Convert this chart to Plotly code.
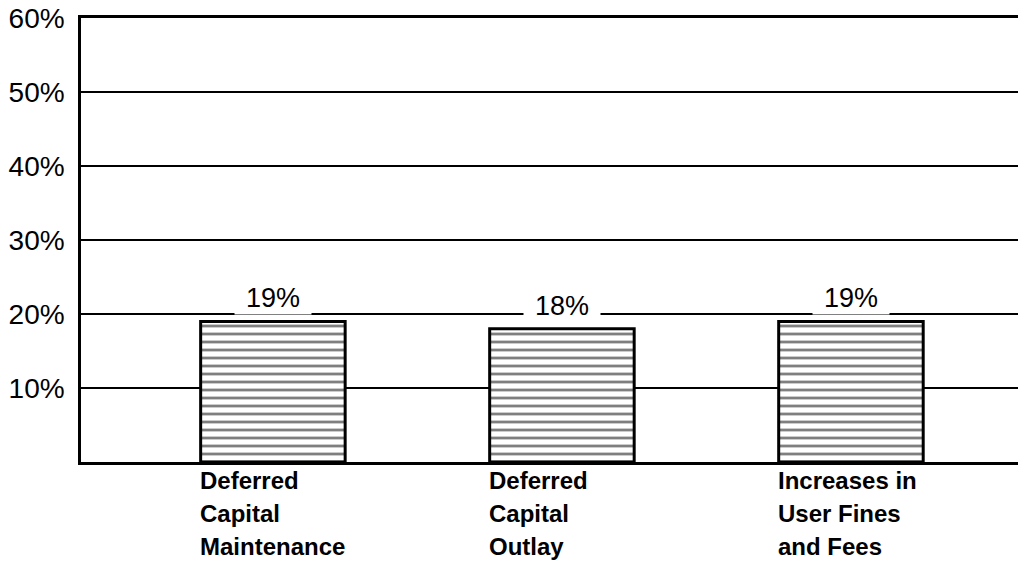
import plotly.graph_objects as go

# 資料
categories = ["Deferred<br>Capital<br>Maintenance",
              "Deferred<br>Capital<br>Outlay",
              "Increases in<br>User Fines<br>and Fees"]
values = [19, 18, 19]
value_labels = ["19%", "18%", "19%"]
y_ticks = [10, 20, 30, 40, 50, 60]
y_ticktext = ["10%", "20%", "30%", "40%", "50%", "60%"]

x_pos = list(range(len(categories)))

fig = go.Figure()

# 橫線填充長條
fig.add_trace(go.Bar(
    x=x_pos, y=values, width=0.5,
    marker=dict(
        color="white",
        line=dict(color="black", width=3),
        pattern=dict(shape="-", fgcolor="black", bgcolor="white",
                     size=8, solidity=0.35),
    ),
    showlegend=False,
))

# 長條上方數值
for xi, v, lab in zip(x_pos, values, value_labels):
    fig.add_annotation(
        x=xi, y=v, text=lab, showarrow=False,
        yanchor="bottom", yshift=6, bgcolor="white", width=74,
        font=dict(family="Liberation Sans, Arial", size=27, color="black"),
    )

# 類別標籤（靠左對齊於長條左緣，逐行擺放）
for xi, cat in zip(x_pos, categories):
    for j, line in enumerate(cat.split("<br>")):
        fig.add_annotation(
            x=xi - 0.26, y=0, text="<b>" + line + "</b>", showarrow=False,
            xanchor="left", yanchor="top", align="left", yshift=-3 - 33 * j,
            font=dict(family="Liberation Sans, Arial", size=24, color="black"),
        )

fig.update_layout(
    width=1018, height=567,
    plot_bgcolor="white", paper_bgcolor="white",
    margin=dict(l=81, r=0, t=18, b=105, autoexpand=False),
)
fig.update_xaxes(
    range=[-0.664, 2.578], showticklabels=False, showgrid=False,
    showline=True, linecolor="black", linewidth=3, ticks="", zeroline=False,
    mirror=True, automargin=False,
)
fig.update_yaxes(
    range=[0, 60], tickvals=y_ticks, ticktext=y_ticktext,
    showgrid=True, gridcolor="black", gridwidth=2,
    showline=True, linecolor="black", linewidth=2.5, ticks="",
    zeroline=False, ticklabelstandoff=8, automargin=False,
    tickfont=dict(family="Liberation Sans, Arial", size=28, color="black"),
)

# 去掉頁面預設邊距，讓圖貼齊視窗左上角
fig.write_html("out.html", config={"displayModeBar": False},
               post_script="document.body.style.margin='0';")
